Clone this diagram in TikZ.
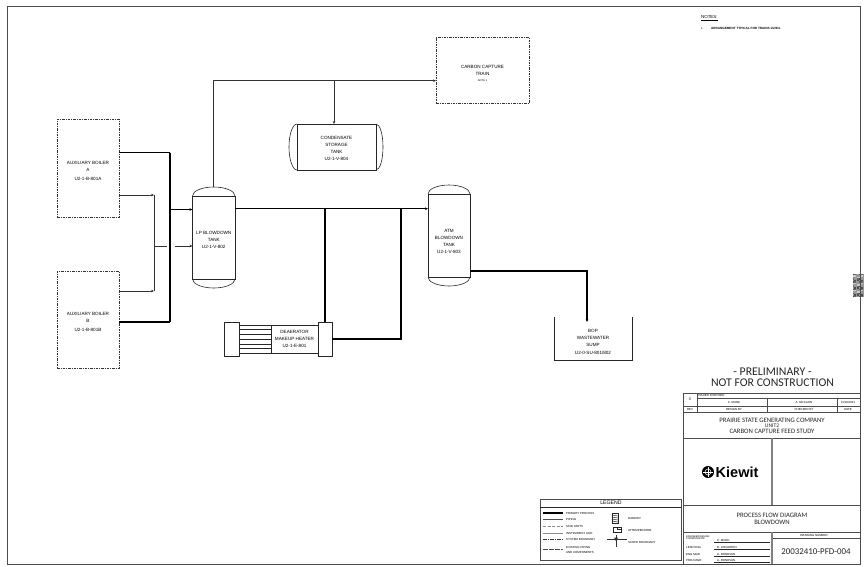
\documentclass[tikz,border=0pt]{standalone}
\usepackage{fontspec}
\setmainfont{Liberation Sans}
\newfontfamily\tbfont{Carlito}
\usetikzlibrary{calc,positioning,arrows.meta}
\tikzset{
  equip/.style={draw=black!85, line width=0.6pt, inner sep=0pt, outer sep=0pt},
  skid/.style={equip, dashed, dash pattern=on 2.5pt off 1pt on 1pt off 1pt, draw=black!80},
  lbl/.style={font=\fontsize{4.6}{7}\selectfont, inner sep=0pt, align=center, text=black},
  tiny/.style={font=\fontsize{2.9}{3.5}\selectfont, inner sep=0pt, align=center, text=black},
  tb/.style={font=\tbfont\fontsize{6.7}{7}\selectfont, inner sep=0pt, align=center, text=black!85},
  primary/.style={draw=black, line width=1.2pt},
  piping/.style={draw=black!80, line width=0.6pt},
  flow/.style={-{Stealth[length=3pt,width=2.6pt]}},
  border/.style={draw=black!70, line width=0.9pt},
}
\newcommand{\VTank}[6]{%
  \node[equip, minimum width=#4, minimum height=#5] (#1) at (#2,#3) {};
  \draw[equip] (#1.north west) arc[start angle=180, end angle=0, x radius=#4/2, y radius=#6];
  \draw[equip] (#1.south west) arc[start angle=180, end angle=360, x radius=#4/2, y radius=#6];
}
\begin{document}
\begin{tikzpicture}[x=1pt,y=-1pt]
  \useasboundingbox (0,0) rectangle (864,566);
  \fill[white] (0,0) rectangle (864,566);

  % code block at the edge
  \fill[black!40] (853,274) rectangle (864,297);
  \foreach \i in {0,...,7} {
    \foreach \j in {0,...,15} {
      \pgfmathsetmacro{\qrg}{int(mod(\i*\i*3+\j*\j*5+\i*\j*7+\j,5))}
      \ifnum\qrg=0 \fill[black!70] (853+1.4*\i,274+1.45*\j) rectangle +(1.4,1.45);\fi
      \ifnum\qrg=1 \fill[black!20] (853+1.4*\i,274+1.45*\j) rectangle +(1.4,1.45);\fi
      \ifnum\qrg=3 \fill[black!60] (853+1.4*\i,274+1.45*\j) rectangle +(1.4,1.45);\fi
    }
  }
  \node[minimum width=853pt, minimum height=558pt, inner sep=0pt, border, draw] (frame) at (433.5,285) {};

  % equipment
  \node[skid, minimum width=62pt, minimum height=98pt] (boilerA) at (88,168) {};
  \node[lbl] (boilerAt) at (88,171) {AUXILIARY BOILER\\A\\[1.5pt]U2-1-B-801A};
  \node[skid, minimum width=62pt, minimum height=97pt] (boilerB) at (88,319.5) {};
  \node[lbl] (boilerBt) at (88,322) {AUXILIARY BOILER\\B\\[1.5pt]U2-1-B-801B};
  \VTank{lpTank}{213.75}{237.5}{42.5pt}{83pt}{9pt}
  \node[lbl] (lpTankt) at (213.75,240) {LP BLOWDOWN\\TANK\\U2-1-V-802};
  \VTank{atmTank}{449}{235.5}{42pt}{83pt}{9pt}
  \node[lbl] (atmTankt) at (449,241) {ATM\\BLOWDOWN\\TANK\\U2-1-V-803};
  \node[skid, minimum width=93pt, minimum height=66pt] (capture) at (482.5,70) {};
  \node[lbl] (capturet) at (482.5,73) {CARBON CAPTURE\\TRAIN\\[-1pt]{\fontsize{2.6}{3}\selectfont NOTE 1}};
  \node[equip, minimum width=79pt, minimum height=46pt] (condTank) at (336.5,147) {};
  \draw[equip] (condTank.north west) arc[start angle=90, end angle=270, x radius=8pt, y radius=23pt];
  \draw[equip] (condTank.north east) arc[start angle=90, end angle=-90, x radius=7pt, y radius=23pt];
  \node[lbl] (condTankt) at (336.5,148) {CONDENSATE\\STORAGE\\TANK\\U2-1-V-804};

  % exchanger
  \node[equip, minimum width=79pt, minimum height=28pt] (hxBody) at (278.5,339) {};
  \node[equip, fill=white, minimum width=15pt, minimum height=34pt] (hxLeft) at (231.5,339) {};
  \node[equip, fill=white, minimum width=14pt, minimum height=34pt] (hxRight) at (325,339) {};
  \coordinate (hxDiv) at (271,339);
  \draw[equip] (hxDiv |- hxBody.north) -- (hxDiv |- hxBody.south);
  \foreach \ty in {329,334,339.5,344,348.5} {
    \draw[equip] (hxLeft.east |- 0,\ty) -- (hxDiv |- 0,\ty);
  }
  \node[lbl] (hxBodyt) at (294.5,339) {DEAERATOR\\MAKEUP HEATER\\U2-1-E-801};

  % sump
  \coordinate (sumpA) at (554,317);
  \coordinate (sumpB) at (554,360);
  \coordinate (sumpC) at (632,360);
  \coordinate (sumpD) at (632,317);
  \draw[equip] (sumpA) -- (sumpB) -- (sumpC) -- (sumpD);
  \node[lbl] (sumpt) at (593,342) {BOP\\WASTEWATER\\SUMP\\[1pt]U2-0-SU-801/802};

  % primary process lines
  \coordinate (hdr) at (170,152.5);
  \coordinate (hdrB) at (170,322);
  \coordinate (hdrIn) at (170,209.5);
  \draw[primary, line width=1.9pt] (boilerA.east |- hdr) -- (hdr);
  \draw[primary, line width=1.5pt] (hdr) -- (hdrB);
  \draw[primary] (hdrB) -- (boilerB.east |- hdrB);
  \draw[primary, flow] (hdrIn) -- (lpTank.west |- hdrIn);
  \coordinate (mainY) at (325,208.7);
  \coordinate (jHx) at (401,208.7);
  \coordinate (jHxB) at (401,339);
  \draw[primary, flow] (lpTank.east |- mainY) -- (atmTank.west |- mainY);
  \draw[primary, line width=1.9pt] (mainY) -- (mainY |- hxRight.north);
  \draw[primary] (hxRight.east |- jHxB) -- (jHxB) -- (jHx);
  \coordinate (atmOut) at (587,271);
  \draw[primary, flow] (atmTank.east |- atmOut) -- (atmOut) -- (587,322);

  % piping
  \coordinate (ventTop) at (213.5,80.7);
  \coordinate (condTee) at (334,80.7);
  \coordinate (stmA) at (154,195);
  \coordinate (stmB) at (154,291);
  \coordinate (stmIn) at (154,246);
  \coordinate (gapL) at (166.5,246);
  \coordinate (gapR) at (174.5,246);
  \draw[piping, flow] (213.5,187) -- (ventTop) -- (capture.west |- ventTop);
  \draw[piping, flow] (condTee) -- (condTee |- condTank.north);
  \draw[piping, flow] (boilerA.east |- stmA) -- (stmA);
  \draw[piping, flow] (boilerB.east |- stmB) -- (stmB);
  \draw[piping] (stmA) -- (stmB);
  \draw[piping] (stmIn) -- (gapL);
  \draw[piping, flow] (gapR) -- (lpTank.west |- stmIn);

  % notes
  \node[font=\fontsize{4.4}{5}\selectfont, inner sep=0pt, anchor=west] (notesT) at (701,18) {\underline{NOTES:}};
  \node[tiny, anchor=west] (note1n) at (701,28) {1.};
  \node[tiny, anchor=west, font=\fontsize{3.1}{3.5}\selectfont\bfseries] (note1) at (711,28) {ARRANGEMENT TYPICAL FOR TRAINS 1/2/3/4.};

  % legend
  \node[border, draw, line width=0.6pt, minimum width=141pt, minimum height=61pt, inner sep=0pt] (legend) at (610.5,529.5) {};
  \node[font=\fontsize{5.2}{6}\selectfont, inner sep=0pt] (legendT) at (611,503) {LEGEND};
  \draw[equip] (legend.west |- 0,507.5) -- (legend.east |- 0,507.5);
  \draw[draw=black, line width=1.2pt] (543,513) -- (563,513);
  \draw[draw=black!70, line width=0.4pt] (543,519.5) -- (563,519.5);
  \draw[draw=black!45, line width=0.5pt, dash pattern=on 3pt off 1.5pt] (543,526) -- (563,526);
  \draw[draw=black!45, line width=0.7pt] (543,533) -- (563,533);
  \draw[draw=black!80, line width=0.4pt, dash pattern=on 4pt off 1pt on 1pt off 1pt] (543,539) -- (563,539);
  \draw[draw=black!70, line width=0.4pt, dash pattern=on 5pt off 1pt] (543,549.5) -- (563,549.5);
  \foreach \ly/\lt in {513/PRIMARY PROCESS,519.5/PIPING,526/SKID LIMITS,533/INSTRUMENT LINE,539/SYSTEM BOUNDARY,547/EXISTING PIPING,552.5/AND COMPONENTS} {
    \node[tiny, anchor=west] at (566,\ly) {\lt};
  }
  \node[equip, minimum width=6pt, minimum height=10pt] (damper) at (615,518) {};
  \foreach \dy in {515,517,519,521} {
    \draw[equip, line width=0.5pt] (damper.west |- 0,\dy) -- (damper.east |- 0,\dy+1);
  }
  \node[equip, minimum width=8pt, minimum height=5pt] (attemp) at (617,529.5) {};
  \draw[equip, line width=0.9pt] (attemp.north) -- (attemp.center) -- (attemp.east);
  \coordinate (scopeC) at (616,539);
  \draw[piping] (607,539) -- (627,539);
  \draw[piping] (616,535) -- (616,547);
  \fill[black!80] (scopeC) ++(-2,-1.5) -- ++(4,0) -- ++(-2,4) -- cycle;
  \node[tiny, anchor=west] (lgDamper) at (628,518) {DAMPER};
  \node[tiny, anchor=west] (lgAttemp) at (628,530) {ATTEMPERATOR};
  \node[tiny, anchor=west] (lgScope) at (628,542) {SCOPE BOUNDARY};

  % title block
  \node[tb, font=\tbfont\fontsize{11.8}{13}\selectfont] (prelim) at (772.5,372) {- PRELIMINARY -};
  \node[tb, font=\tbfont\fontsize{11.8}{13}\selectfont] (notfor) at (772.5,383) {NOT FOR CONSTRUCTION};
  \draw[border] (683,393) rectangle (860,564);
  \draw[border] (683,406) -- (860,406) (683,412) -- (860,412) (683,438) -- (860,438)
    (683,505) -- (860,505) (683,532) -- (860,532) (772,538) -- (860,538);
  \draw[border, line width=0.6pt] (697,393) -- (697,412) (697,398.5) -- (860,398.5)
    (767,398.5) -- (767,412) (837,398.5) -- (837,412);
  \draw[border, draw=black!50, line width=1.2pt] (772,438) -- (772,505) (772,532) -- (772,564);
  \node[tiny, anchor=west] (issued) at (698,395.5) {ISSUED FOR FEED};
  \node[tb, font=\fontsize{4}{5}\selectfont] (revNo) at (690,399.5) {0};
  \foreach \tx/\ttop/\tbot in {734/C. MUNK/DESIGN BY,804/A. MCCLAIN/CHECKED BY,848/{11/16/2021}/DATE} {
    \node[tiny] at (\tx,402.5) {\ttop};
    \node[tiny] at (\tx,409) {\tbot};
  }
  \node[tiny] (revT) at (690,409) {REV};
  \node[tb] (plant) at (772,420) {PRAIRIE STATE GENERATING COMPANY};
  \node[tb, font=\tbfont\fontsize{5.6}{6}\selectfont] (unit) at (772,425.5) {UNIT2};
  \node[tb] (study) at (772,431) {CARBON CAPTURE FEED STUDY};
  \node[tb] (pfd) at (772,515) {PROCESS FLOW DIAGRAM};
  \node[tb] (blow) at (772,522.5) {BLOWDOWN};
  \fill[black] (708,472) circle (6pt);
  \draw[white, line width=0.5pt] (708,472) circle (3pt);
  \draw[white, line width=0.5pt] (708,467) -- (708,477) (703,472) -- (713,472);
  \node[font=\fontsize{14.5}{16}\selectfont\bfseries, inner sep=0pt, anchor=west] (logo) at (715.5,472) {Kiewit};
  \node[tiny] (dwgT) at (814,535) {DRAWING NUMBER};
  \node[tb, font=\tbfont\fontsize{8.9}{10}\selectfont] (dwgNo) at (816,552) {20032410-PFD-004};
  \node[tiny, anchor=west, font=\fontsize{2.5}{2.8}\selectfont, align=left] (engT) at (686,537.5) {ENGINEER/DESIGN\\COORDINATOR};
  \foreach \py/\pa/\pb in {547/LEAD ENG/B. LOFGREEN,554/ENG MGR/A. DONOVAN,560.5/PROJ MGR/A. DONOVAN} {
    \node[tiny, anchor=west] at (686,\py) {\pa};
    \node[tiny, anchor=west] at (717,\py) {\pb};
  }
  \node[tiny, anchor=west] (engN) at (717,540) {C. MUNK};
  \draw[equip] (714,542) -- (770,542) (714,549) -- (770,549) (714,556) -- (770,556) (714,562.5) -- (770,562.5);
\end{tikzpicture}
\end{document}
